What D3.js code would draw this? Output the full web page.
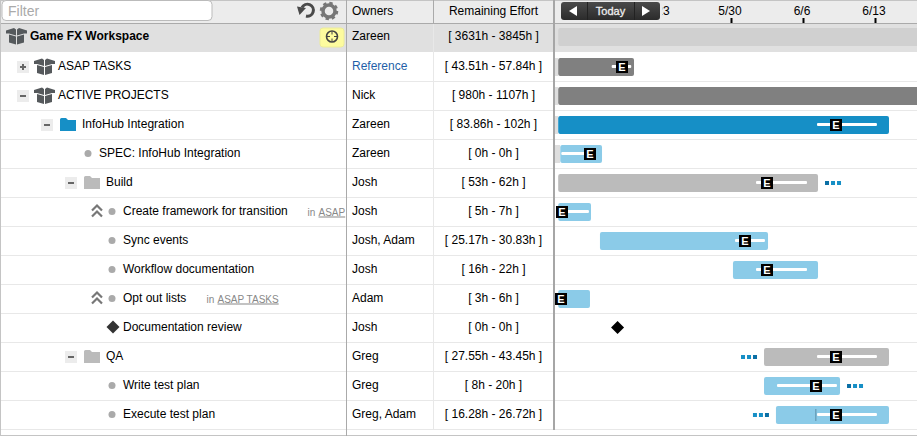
<!DOCTYPE html>
<html>
<head>
    <script src="https://d3js.org/d3.v7.min.js"></script>
    <style>
        html, body {margin: 0; padding: 0; background: #fff; overflow: hidden;}
        svg {display: block;}
        text {font-family: "Liberation Sans", Arial, Helvetica, sans-serif; font-size: 12px; fill: #000;}
    </style>
</head>
<body>
    <svg width="917" height="436"></svg>
    <script>
        // Rows, top to bottom
        const names = ["Game FX Workspace", "ASAP TASKS", "ACTIVE PROJECTS", "InfoHub Integration", "SPEC: InfoHub Integration", "Build",
            "Create framework for transition", "Sync events", "Workflow documentation", "Opt out lists", "Documentation review", "QA", "Write test plan", "Execute test plan"];
        const kinds = ["workspace", "package", "package", "project", "task", "folder", "task", "task", "task", "task", "milestone", "folder", "task", "task"];
        const depths = [0, 1, 1, 2, 3, 3, 4, 4, 4, 4, 4, 3, 4, 4];
        const owners = ["Zareen", "Reference", "Nick", "Zareen", "Zareen", "Josh", "Josh", "Josh, Adam", "Josh", "Adam", "Josh", "Greg", "Greg", "Greg, Adam"];
        const efforts = ["[ 3631h - 3845h ]", "[ 43.51h - 57.84h ]", "[ 980h - 1107h ]", "[ 83.86h - 102h ]", "[ 0h - 0h ]", "[ 53h - 62h ]", "[ 5h - 7h ]",
            "[ 25.17h - 30.83h ]", "[ 16h - 22h ]", "[ 3h - 6h ]", "[ 0h - 0h ]", "[ 27.55h - 43.45h ]", "[ 8h - 20h ]", "[ 16.28h - 26.72h ]"];
        const expanders = ["", "+", "-", "-", "", "-", "", "", "", "", "", "-", "", ""];
        const priority = [6, 9];
        const crossRefs = ["", "", "", "", "", "", "ASAP", "", "", "ASAP TASKS", "", "", "", ""];

        // Schedule, in days after 5/30
        const barStart = [-16.8, -16.8, -16.8, -16.8, -16.6, -16.8, -16.8, -12.74, 0.19, -16.8, null, 3.21, 3.21, 4.37];
        const barEnd = [19, -9.43, 19, 15.36, -12.54, 8.46, -13.61, 3.6, 8.46, -13.71, null, 15.36, 10.6, 15.36];
        const estStart = [null, -11.6, null, 8.36, -16.5, 2.43, -16.43, 0.39, 2.43, null, null, 8.36, 4.47, 8.36];
        const estEnd = [null, -9.7, null, 14.19, -13.8, 7.39, -13.81, 3.3, 7.39, null, null, 14.19, 10.3, 14.19];
        const estMark = [null, -10.55, null, 10.21, -13.71, 3.5, -16.4, 1.36, 3.5, -16.55, null, 10.21, 8.26, 10.21];
        const milestones = [null, null, null, null, null, null, null, null, null, null, -11.03, null, null, null];
        const depAfter = [5, 12];
        const depBefore = [11, 13];
        const startHandles = [0, 1, 2, 3, 4];
        const tickDays = [-7, 0, 7, 14];
        const tickLabels = ["5/23", "5/30", "6/6", "6/13"];
        const rowIndex = names.map((d, i) => i);

        const barColors = {workspace: "#d0d0d0", package: "#808080", project: "#168fc6", folder: "#bbbbbb", task: "#8bcbe8"};

        const svg = d3.select("svg");
        const x = d3.scaleLinear().domain([0, 7]).range([731, 803]);
        const rowTop = d3.scaleLinear().domain([1, 2]).range([52, 81]);
        const textX = i => kinds[i] == "workspace" ? 30 : (kinds[i] == "task" || kinds[i] == "milestone") ? 24 * depths[i] + 27 : 24 * depths[i] + 34;
        const midY = i => i == 0 ? 36 : rowTop(i) + 14.5;

        // Header and row background
        svg.append("rect").attr("width", 917).attr("height", 24).attr("fill", "#ececec");
        svg.append("rect").attr("y", 24).attr("width", 917).attr("height", 28).attr("fill", "#e0e0e0");
        svg.append("rect").attr("width", 917).attr("height", 1).attr("fill", "#c4c4c4");
        svg.append("rect").attr("y", 23).attr("width", 917).attr("height", 1).attr("fill", "#aaa");

        svg.selectAll(".sep").data(rowIndex.slice(1)).enter().append("rect")
            .attr("class", "sep").attr("x", 0).attr("width", 917).attr("height", 1)
            .attr("y", d => rowTop(d) + 29).attr("fill", "#e8e8e8");
        svg.append("rect").attr("y", 435).attr("width", 917).attr("height", 1).attr("fill", "#c4c4c4");

        // Gantt bars
        const drawable = rowIndex.filter(i => barStart[i] !== null);
        svg.selectAll(".bar").data(drawable).enter().append("rect")
            .attr("class", "bar").attr("rx", 2)
            .attr("x", d => x(barStart[d]))
            .attr("width", d => x(barEnd[d]) - x(barStart[d]))
            .attr("y", d => d == 0 ? 28 : rowTop(d) + 6)
            .attr("height", 18)
            .attr("fill", d => barColors[kinds[d]]);

        svg.selectAll(".handle").data(startHandles).enter().append("rect")
            .attr("x", 555).attr("width", d => d == 4 ? 5 : 3)
            .attr("y", d => d == 0 ? 28 : rowTop(d) + 6).attr("height", 18)
            .attr("fill", "#dedede");

        svg.selectAll(".est").data(rowIndex.filter(i => estStart[i] !== null)).enter().append("rect")
            .attr("class", "est").attr("rx", 1)
            .attr("x", d => x(estStart[d]))
            .attr("width", d => x(estEnd[d]) - x(estStart[d]))
            .attr("y", d => midY(d) - 1.5).attr("height", 3).attr("fill", "#fff");

        // thin marker on the last row
        svg.append("rect").attr("x", x(8.2)).attr("width", 1).attr("y", rowTop(13) + 9).attr("height", 12).attr("fill", "#5b8da8");

        const marks = svg.selectAll(".mark").data(rowIndex.filter(i => estMark[i] !== null)).enter().append("g")
            .attr("class", "mark")
            .attr("transform", d => `translate(${Math.round(x(estMark[d]))},${midY(d)})`);
        marks.append("rect").attr("x", -6).attr("y", -5.5).attr("width", 12).attr("height", 12).attr("fill", "#000");
        marks.append("text").attr("text-anchor", "middle").attr("y", 4.5)
            .style("font-size", "11px").style("font-weight", "bold").style("fill", "#fff").text("E");

        svg.selectAll(".ms").data(rowIndex.filter(i => milestones[i] !== null)).enter().append("path")
            .attr("class", "ms")
            .attr("transform", d => `translate(${x(milestones[d])},${midY(d)})`)
            .attr("d", "M0,-6.5L6.5,0L0,6.5L-6.5,0Z").attr("fill", "#000");

        // dependency dots: dark one sits next to the bar
        function depDots(rows, after) {
            rows.forEach(r => {
                const edge = after ? x(barEnd[r]) + 7 : x(barStart[r]) - 23;
                [0, 1, 2].forEach(k => {
                    const dark = after ? k == 0 : k == 2;
                    svg.append("rect").attr("x", edge + k * 6).attr("y", midY(r) - 2 + 0.5)
                        .attr("width", 4).attr("height", 4)
                        .attr("fill", dark ? "#0a6fa5" : "#168fc6");
                });
            });
        }
        depDots(depAfter, true);
        depDots(depBefore, false);

        // Date axis
        const axis = d3.axisTop(x).tickValues(tickDays).tickFormat((d, i) => tickLabels[i]).tickSize(5).tickPadding(3);
        const axisG = svg.append("g").attr("transform", "translate(0,23)").call(axis);
        axisG.select(".domain").remove();
        axisG.selectAll("line").attr("stroke", "#000").attr("stroke-width", 2);
        axisG.selectAll("text").attr("dx", -1.5).style("font-size", "12px").style("fill", "#000");
        axisG.select(".tick line").remove();

        // Today buttons
        const grad = svg.append("defs").append("linearGradient").attr("id", "btn").attr("x2", 0).attr("y2", 1);
        grad.append("stop").attr("offset", 0).attr("stop-color", "#4a4a4a");
        grad.append("stop").attr("offset", 1).attr("stop-color", "#2b2b2b");
        svg.append("rect").attr("x", 660).attr("y", 2).attr("width", 2.5).attr("height", 18).attr("fill", "#ececec");
        svg.append("rect").attr("x", 561).attr("y", 2).attr("width", 99).attr("height", 18).attr("rx", 3).attr("fill", "url(#btn)");
        [587, 634].forEach(p => svg.append("rect").attr("x", p).attr("y", 2).attr("width", 1).attr("height", 18).attr("fill", "#222"));
        svg.append("path").attr("d", "M569,11L577,6V16Z").attr("fill", "#fff");
        svg.append("path").attr("d", "M650,11L642,6V16Z").attr("fill", "#fff");
        svg.append("text").attr("x", 610.5).attr("y", 15).attr("text-anchor", "middle")
            .style("font-size", "11px").style("fill", "#eee").style("stroke", "#eee").style("stroke-width", 0.3).text("Today");

        // Name column
        svg.append("defs").append("clipPath").attr("id", "nameClip").append("rect").attr("width", 346).attr("height", 436);
        const nameCol = svg.append("g").attr("clip-path", "url(#nameClip)");

        nameCol.selectAll(".name").data(rowIndex).enter().append("text")
            .attr("class", "name")
            .attr("x", d => textX(d))
            .attr("y", d => midY(d) + 3.5)
            .style("font-weight", d => d == 0 ? "bold" : "normal")
            .text(d => names[d]);

        const boxPath = "M3,7L10,9V17L3,15ZM11,9L18,7V15L11,17ZM0,3L8,0.5L10,2V8L3,6L0,6ZM21,3L13,0.5L11,2V8L18,6L21,6Z";
        nameCol.selectAll(".box").data(rowIndex.filter(i => kinds[i] == "workspace" || kinds[i] == "package")).enter().append("path")
            .attr("transform", d => `translate(${textX(d) - 24},${midY(d) - 8.5})`)
            .attr("d", boxPath).attr("fill", "#55595c");

        const folderPath = "M0,1.5Q0,0 1.5,0H6L8,2H16V13H0Z";
        nameCol.selectAll(".folder").data(rowIndex.filter(i => kinds[i] == "project" || kinds[i] == "folder")).enter().append("path")
            .attr("transform", d => `translate(${textX(d) - 22},${midY(d) - 6.5})`)
            .attr("d", folderPath).attr("fill", d => barColors[kinds[d]]);

        const exp = nameCol.selectAll(".exp").data(rowIndex.filter(i => expanders[i])).enter().append("g")
            .attr("transform", d => `translate(${textX(d) - 41},${midY(d) - 5.5})`);
        exp.append("rect").attr("width", 12).attr("height", 12).attr("fill", "#ececec");
        exp.append("rect").attr("x", 3).attr("y", 5).attr("width", 6).attr("height", 2).attr("fill", "#666");
        exp.filter(d => expanders[d] == "+").append("rect").attr("x", 5).attr("y", 3).attr("width", 2).attr("height", 6).attr("fill", "#666");

        nameCol.selectAll(".dot").data(rowIndex.filter(i => kinds[i] == "task")).enter().append("circle")
            .attr("cx", d => textX(d) - 11).attr("cy", d => midY(d)).attr("r", 3.5).attr("fill", "#aaa");

        nameCol.selectAll(".diamond").data(rowIndex.filter(i => kinds[i] == "milestone")).enter().append("path")
            .attr("transform", d => `translate(${textX(d) - 10},${midY(d) - 0.5})`)
            .attr("d", "M0,-6.5L6.5,0L0,6.5L-6.5,0Z").attr("fill", "#333");

        nameCol.selectAll(".prio").data(priority).enter().append("path")
            .attr("transform", d => `translate(${textX(d) - 26},${midY(d)})`)
            .attr("d", "M-5,-1L0,-6L5,-1M-5,5L0,0L5,5").attr("fill", "none").attr("stroke", "#777").attr("stroke-width", 2.2);

        const refs = nameCol.selectAll(".ref").data(rowIndex.filter(i => crossRefs[i])).enter().append("text")
            .attr("x", d => d == 6 ? 307.5 : 206.5)
            .attr("y", d => midY(d) + 4)
            .style("font-size", "10px").style("fill", "#888");
        refs.append("tspan").text("in ");
        refs.append("tspan").attr("dx", 1).style("text-decoration", "underline").text(d => crossRefs[d]);

        // Owners and effort columns
        svg.selectAll(".owner").data(rowIndex).enter().append("text")
            .attr("x", 352).attr("y", d => midY(d) + 3.5)
            .style("fill", d => owners[d] == "Reference" ? "#1f5fa8" : "#000")
            .text(d => owners[d]);
        svg.selectAll(".effort").data(rowIndex).enter().append("text")
            .attr("x", 493.5).attr("y", d => midY(d) + 3.5).attr("text-anchor", "middle")
            .text(d => efforts[d]);
        svg.append("text").attr("x", 352).attr("y", 15).text("Owners");
        svg.append("text").attr("x", 493.5).attr("y", 15).attr("text-anchor", "middle").text("Remaining Effort");

        // Column rules
        svg.append("rect").attr("x", 0).attr("width", 1).attr("height", 436).attr("fill", "#c4c4c4");
        svg.append("rect").attr("x", 346).attr("width", 1).attr("height", 436).attr("fill", "#aaa");
        svg.append("rect").attr("x", 433).attr("y", 24).attr("width", 1).attr("height", 406).attr("fill", "#e8e8e8");
        svg.append("rect").attr("x", 433).attr("width", 1).attr("height", 24).attr("fill", "#aaa");
        svg.append("rect").attr("x", 553).attr("width", 2).attr("height", 430).attr("fill", "#a6a6a6");

        // Toolbar
        svg.append("rect").attr("x", 2).attr("y", 0.5).attr("width", 210).attr("height", 20).attr("rx", 4)
            .attr("fill", "#fff").attr("stroke", "#bbb");
        svg.append("text").attr("x", 8).attr("y", 15.5).style("font-size", "14px").style("fill", "#aaa").text("Filter");

        svg.append("path").attr("d", "M302,7.5A6,6,0,1,1,306,16")
            .attr("fill", "none").attr("stroke", "#4a4a4a").attr("stroke-width", 3);
        svg.append("path").attr("d", "M297,6.5L306,8L299.5,15Z").attr("fill", "#4a4a4a");

        svg.append("circle").attr("cx", 329).attr("cy", 11).attr("r", 6).attr("fill", "none").attr("stroke", "#777").attr("stroke-width", 3.5);
        svg.append("circle").attr("cx", 329).attr("cy", 11).attr("r", 8).attr("fill", "none").attr("stroke", "#777")
            .attr("stroke-width", 2.5).attr("stroke-dasharray", "3.3 3");

        // Yellow locate button
        svg.append("rect").attr("x", 320).attr("y", 28).attr("width", 24).attr("height", 19).attr("rx", 3).attr("fill", "#fdfb9e").attr("stroke", "#ecec9a");
        svg.append("circle").attr("cx", 332).attr("cy", 36.5).attr("r", 5.5).attr("fill", "none").attr("stroke", "#444").attr("stroke-width", 1.6);
        svg.append("path").attr("d", "M332,31.5V34.5M332,38.5V41.5M327,36.5H330M334,36.5H337").attr("stroke", "#444");
    </script>
</body>
</html>
